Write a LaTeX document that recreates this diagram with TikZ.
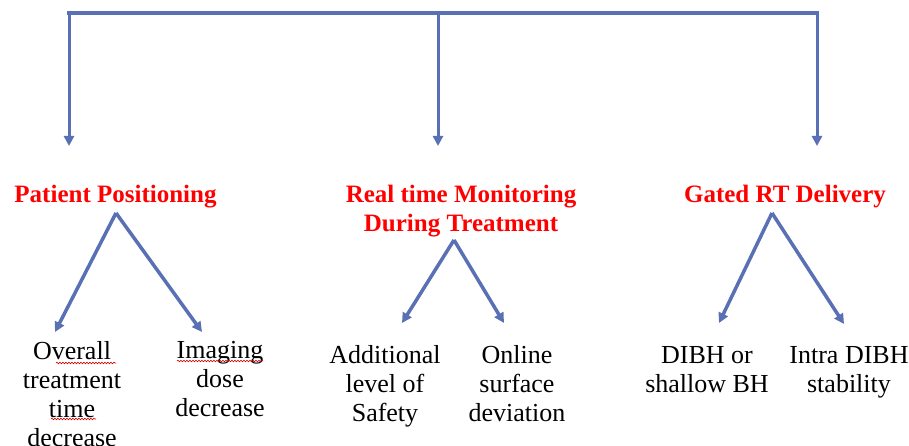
\documentclass[tikz,border=0pt]{standalone}
\usepackage{fontspec}
\setmainfont{Liberation Serif}
\usetikzlibrary{arrows.meta,decorations.pathmorphing}
\definecolor{arrowblue}{RGB}{90,112,180}
\definecolor{titlered}{RGB}{255,0,0}
\tikzset{
  conn/.style={draw=arrowblue, line width=3.5pt, -{Triangle[width=10pt,length=10pt]}},
  bar/.style={draw=arrowblue, line width=4pt, line cap=rect},
  title/.style={text=titlered, font=\fontsize{25}{29}\selectfont\bfseries, align=center, inner sep=0pt},
  item/.style={text=black, font=\fontsize{26}{29}\selectfont, align=center, inner sep=0pt},
  spell/.style={draw=red!80!black, line width=0.6pt, decorate, decoration={snake, amplitude=0.8pt, segment length=3pt}}
}
\begin{document}
\begin{tikzpicture}[x=1pt,y=-1pt]
\useasboundingbox (0,0) rectangle (909,446);
% top bar
\coordinate (b1) at (69,13);
\coordinate (b2) at (438,13);
\coordinate (b3) at (817,13);
\coordinate (e1) at (69,146);
\coordinate (e2) at (438,146);
\coordinate (e3) at (817,146);
\draw[bar] (b1) -- (b3);
\draw[conn, line width=3pt] (b1) -- (e1);
\draw[conn, line width=3pt] (b2) -- (e2);
\draw[conn, line width=3pt] (b3) -- (e3);
% titles
\node[title, anchor=base] (t1) at (115.5,203) {Patient Positioning};
\node[title, anchor=north] (t2) at (461,185) {Real time Monitoring\\During Treatment};
\node[title, anchor=base] (t3) at (785,203) {Gated RT Delivery};
% apexes and tips
\coordinate (a1) at (116,213);
\coordinate (a2) at (454,240);
\coordinate (a3) at (772,213);
\coordinate (l1) at (55,332);
\coordinate (r1) at (202,332);
\coordinate (l2) at (402,323);
\coordinate (r2) at (504,323);
\coordinate (l3) at (719,323);
\coordinate (r3) at (844,324);
\draw[conn] (a1) -- (l1);
\draw[conn] (a1) -- (r1);
\draw[conn] (a2) -- (l2);
\draw[conn] (a2) -- (r2);
\draw[conn] (a3) -- (l3);
\draw[conn] (a3) -- (r3);
% items
\node[item, anchor=north] (c1) at (72,341) {Overall\\treatment\\time\\decrease};
\node[item, anchor=north] (c2) at (220,341) {Imaging\\dose\\decrease};
\node[item, anchor=north] (c3) at (385,345) {Additional\\level of\\Safety};
\node[item, anchor=north] (c4) at (517,345) {Online\\surface\\deviation};
\node[item, anchor=north] (c5) at (707,346) {DIBH or\\shallow BH};
\node[item, anchor=north] (c6) at (849,346) {Intra DIBH\\stability};
% spell-check marks
\draw[spell] (56,363) -- (116,363);
\draw[spell] (51,419) -- (96,419);
\draw[spell] (177,361) -- (263,361);
\end{tikzpicture}
\end{document}
